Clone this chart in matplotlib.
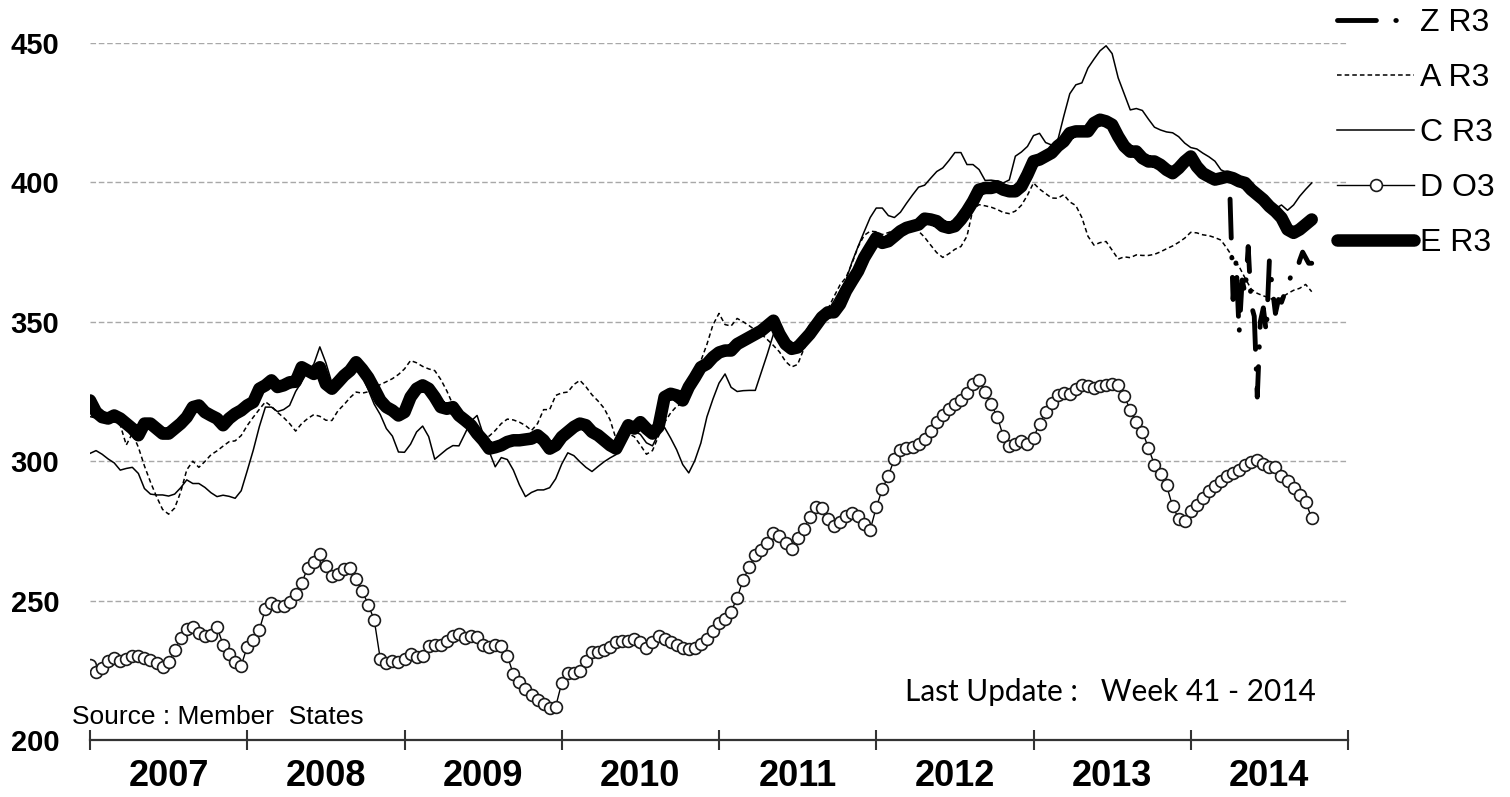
import matplotlib
matplotlib.use("Agg")
import matplotlib.pyplot as plt
import numpy as np

plt.rcParams["font.family"] = ["Liberation Sans", "DejaVu Sans"]

years = [2007, 2008, 2009, 2010, 2011, 2012, 2013, 2014]

# week index of each sample (every second week, 2007 week 1 .. 2014 week 41)
weeks = np.arange(0, 405, 2)

# E R3 (thick line)
e_r3 = [
    321.8, 317.6, 315.8, 315.3, 316.4, 315.3, 313.5, 311.7, 309.3, 313.5, 313.5, 311.7, 309.9,
    309.9, 311.7, 313.5, 315.8, 319.4, 320.0, 317.6, 316.4, 315.3, 312.9, 315.3, 317.0, 318.2,  # 2007
    320.0, 321.2, 326.0, 327.2, 329.0, 326.6, 327.2, 328.3, 328.5, 333.7, 332.5, 331.3, 333.7,
    327.7, 326.0, 328.3, 330.7, 332.5, 335.5, 333.0, 330.0, 326.0, 321.8, 319.4, 318.2, 316.4,  # 2008
    317.6, 323.0, 326.0, 327.2, 326.0, 323.0, 319.4, 318.8, 319.4, 316.4, 314.7, 312.9, 309.9,
    307.5, 304.5, 305.0, 305.7, 306.9, 307.5, 307.5, 307.8, 308.1, 309.3, 307.5, 304.5, 305.7,  # 2009
    308.7, 310.5, 312.3, 313.5, 312.9, 310.5, 309.3, 307.5, 305.7, 304.5, 308.7, 312.9, 311.7,
    314.0, 311.7, 309.9, 312.3, 323.0, 324.2, 323.6, 321.8, 326.6, 330.0, 333.7, 334.9, 337.3,  # 2010
    339.0, 339.7, 339.7, 342.0, 343.2, 344.4, 345.6, 346.8, 348.6, 350.4, 345.6, 342.0, 340.3,
    340.8, 343.2, 345.6, 348.6, 351.6, 353.4, 353.4, 356.3, 361.1, 364.7, 368.2, 373.0, 376.6,  # 2011
    380.1, 378.3, 378.9, 380.7, 382.5, 383.7, 384.3, 384.9, 387.0, 386.7, 386.1, 384.3, 383.7,
    384.3, 386.7, 389.7, 393.2, 397.4, 398.0, 398.0, 398.6, 397.4, 396.8, 396.8, 398.6, 402.8,  # 2012
    407.6, 408.2, 409.4, 410.6, 413.0, 414.7, 417.7, 418.3, 418.3, 418.3, 421.3, 422.5, 421.9,
    420.7, 416.5, 413.0, 411.0, 411.1, 408.7, 407.5, 407.5, 406.3, 404.5, 403.3, 405.1, 407.5,  # 2013
    409.3, 405.7, 403.3, 402.1, 401.0, 401.5, 402.1, 401.5, 400.4, 399.8, 397.4, 395.6, 393.8,
    391.4, 389.6, 387.3, 383.1, 381.9, 383.1, 384.9, 386.7,  # 2014
]

# C R3 (thin solid)
c_r3 = [
    302.8, 303.8, 302.5, 300.8, 299.4, 296.8, 297.4, 297.8, 295.6, 290.2, 288.2, 287.9, 287.9,
    287.5, 288.2, 290.5, 293.3, 292.0, 292.0, 290.6, 288.7, 287.3, 287.8, 287.4, 286.7, 289.4,  # 2007
    296.6, 304.0, 312.4, 319.4, 319.4, 317.8, 318.5, 320.0, 325.0, 328.5, 332.2, 334.8, 341.0,
    335.3, 328.0, 327.6, 329.7, 332.5, 334.3, 330.8, 325.7, 320.4, 316.7, 311.7, 309.0, 303.3,  # 2008
    303.2, 306.1, 310.5, 312.6, 308.8, 300.7, 302.5, 304.3, 305.6, 305.5, 309.9, 314.4, 316.4,
    309.7, 303.5, 298.0, 301.3, 300.6, 296.8, 291.5, 287.3, 288.8, 289.7, 289.7, 290.5, 293.7,  # 2009
    299.0, 303.0, 302.0, 299.8, 297.8, 296.3, 298.1, 299.8, 301.2, 302.4, 305.6, 310.5, 310.8,
    309.6, 306.6, 305.5, 309.9, 312.1, 308.3, 304.1, 298.8, 295.8, 300.2, 306.5, 315.9, 322.3,  # 2010
    328.0, 331.3, 326.5, 325.0, 325.3, 325.4, 325.4, 332.0, 338.5, 345.6, 344.7, 343.0, 340.8,
    343.0, 345.0, 349.0, 350.9, 351.6, 354.0, 357.4, 361.2, 365.0, 371.5, 377.0, 382.3, 387.4,  # 2011
    390.8, 390.8, 388.1, 387.4, 389.3, 392.5, 395.5, 398.3, 399.0, 401.5, 403.9, 405.2, 407.8,
    410.7, 410.7, 406.4, 406.4, 404.6, 400.7, 400.8, 400.5, 399.8, 400.9, 409.4, 410.9, 412.9,  # 2012
    416.8, 417.6, 414.3, 413.4, 415.0, 423.7, 431.8, 435.0, 435.7, 441.0, 444.2, 447.2, 449.0,
    446.2, 437.5, 431.7, 426.0, 426.5, 425.8, 422.7, 419.8, 418.8, 418.1, 417.8, 416.4, 414.1,  # 2013
    412.5, 412.0, 410.5, 409.2, 407.6, 404.5, 403.5, 402.2, 401.0, 399.6, 398.1, 395.3, 392.7,
    390.5, 390.6, 391.9, 390.0, 391.9, 395.0, 397.5, 399.8,  # 2014
]

# A R3 (dashed)
a_r3 = [
    316.0, 315.5, 315.0, 314.5, 314.7, 313.0, 305.8, 310.0, 305.0, 298.3, 292.5, 287.3, 282.7,
    281.0, 283.2, 289.0, 296.9, 300.0, 297.8, 299.9, 302.3, 303.7, 305.4, 307.0, 307.3, 309.2,  # 2007
    312.8, 315.8, 318.6, 321.3, 319.7, 317.5, 315.7, 313.5, 310.8, 313.5, 315.3, 316.7, 316.1,
    314.7, 314.6, 318.1, 320.3, 322.8, 324.8, 324.4, 324.9, 326.4, 327.5, 328.5, 329.6, 331.1,  # 2008
    333.1, 336.1, 335.3, 334.0, 333.1, 332.5, 329.3, 325.2, 320.3, 316.7, 313.5, 313.0, 311.3,
    308.4, 309.0, 311.0, 313.5, 315.1, 314.8, 314.0, 312.8, 311.0, 313.5, 318.5, 318.5, 323.6,  # 2009
    324.5, 324.8, 327.5, 329.0, 326.7, 323.8, 321.6, 319.0, 314.8, 307.8, 306.4, 309.9, 308.8,
    305.8, 302.5, 303.8, 309.0, 313.9, 317.3, 319.7, 320.8, 324.4, 327.5, 336.0, 341.9, 348.9,  # 2010
    353.0, 349.0, 348.5, 351.2, 350.0, 348.6, 347.0, 345.6, 343.6, 341.5, 339.2, 335.8, 333.8,
    334.7, 340.1, 344.1, 347.4, 350.4, 354.6, 359.0, 363.2, 365.9, 371.0, 376.9, 381.0, 382.5,  # 2011
    382.3, 381.3, 382.0, 382.8, 383.5, 384.3, 384.7, 382.5, 380.3, 377.5, 374.8, 373.1, 374.4,
    376.0, 377.0, 380.7, 390.5, 392.0, 391.6, 391.1, 390.3, 389.2, 388.8, 389.7, 391.8, 395.4,  # 2012
    399.8, 397.6, 396.0, 394.4, 394.3, 395.6, 393.0, 391.7, 387.4, 380.7, 377.5, 378.4, 378.8,
    375.7, 372.5, 373.3, 373.0, 374.0, 373.8, 373.8, 374.2, 375.1, 376.2, 377.2, 378.5, 380.0,  # 2013
    382.1, 381.9, 381.2, 380.9, 380.2, 379.3, 376.3, 373.0, 369.8, 365.6, 361.7, 360.2, 359.3,
    358.6, 357.5, 358.6, 360.1, 361.3, 362.0, 363.4, 360.8,  # 2014
]

# D O3 (circles)
d_o3 = [
    227.0, 224.4, 226.0, 228.3, 229.4, 228.2, 229.0, 230.3, 230.2, 229.4, 228.8, 227.7, 226.2,
    227.9, 232.2, 236.7, 239.7, 240.5, 238.4, 237.3, 237.8, 240.5, 234.2, 231.0, 228.0, 226.7,  # 2007
    233.5, 235.8, 239.5, 247.0, 249.1, 248.2, 248.0, 249.6, 252.5, 256.3, 261.8, 263.8, 266.8,
    262.5, 259.0, 259.5, 261.5, 261.6, 257.8, 253.5, 248.6, 243.0, 229.0, 227.5, 228.5, 228.0,  # 2008
    229.0, 231.0, 229.8, 230.0, 233.7, 234.2, 234.0, 235.6, 237.4, 237.9, 236.7, 237.2, 236.8,
    234.2, 233.5, 234.0, 233.6, 230.2, 223.6, 220.8, 218.2, 216.0, 214.5, 213.0, 211.6, 212.0,  # 2009
    220.5, 224.2, 224.0, 224.6, 228.3, 231.4, 231.4, 232.4, 233.4, 235.2, 235.5, 235.4, 236.1,
    235.1, 233.0, 235.2, 237.3, 236.2, 235.1, 234.0, 233.0, 232.6, 233.1, 234.4, 236.3, 239.0,  # 2010
    242.0, 243.5, 246.0, 251.0, 257.5, 262.0, 266.5, 268.0, 270.6, 274.2, 273.3, 270.5, 268.4,
    272.4, 275.8, 279.9, 283.5, 283.2, 279.2, 276.8, 278.3, 280.4, 281.4, 280.3, 277.6, 275.4,  # 2011
    283.4, 290.0, 294.8, 300.8, 304.1, 304.6, 305.2, 306.3, 308.0, 311.0, 314.2, 316.5, 318.7,
    320.4, 321.9, 324.5, 327.8, 329.2, 324.7, 320.4, 316.0, 309.0, 305.6, 306.3, 307.1, 306.0,  # 2012
    308.5, 313.4, 317.5, 320.8, 323.6, 324.4, 324.2, 325.8, 327.3, 326.8, 326.1, 327.1, 327.5,
    327.8, 327.5, 323.5, 318.3, 314.0, 310.6, 304.8, 298.7, 295.3, 291.3, 283.8, 279.4, 278.7,  # 2013
    282.3, 284.2, 286.8, 289.2, 291.1, 292.9, 294.7, 295.8, 296.9, 298.6, 299.7, 300.3, 298.9,
    298.0, 297.9, 294.6, 293.0, 290.5, 287.9, 285.5, 279.5,  # 2014
]

# Z R3 (weekly, only reported from 2014 week 14)
z_weeks = np.arange(377, 405)
z_r3 = [
    394, 358, 372, 346, 365, 360, 377, 356, 352, 323, 350, 355, 346, 372,
    362, 353, 358, 357, 360, 363, 366, 368, 368, 372, 375, 373, 371, 371,
]

x = 2007 + weeks / 52
xz = 2007 + z_weeks / 52

fig = plt.figure(figsize=(15.1, 7.97), dpi=100)
ax = fig.add_axes([90 / 1510, 57 / 797, 1258 / 1510, 697 / 797])

ax.plot(x, d_o3, color="black", lw=1.0, marker="o", ms=8.5, mfc="white",
        mec="#1a1a1a", mew=1.2, label="D O3", zorder=2)
ax.plot(x, e_r3, color="black", lw=9, solid_joinstyle="round",
        solid_capstyle="round", label="E R3", zorder=3)
ax.plot(x, c_r3, color="black", lw=1.1, label="C R3", zorder=4)
ax.plot(x, a_r3, color="black", lw=1.1, linestyle=(0, (3, 2)), label="A R3", zorder=4)
ax.plot(xz, z_r3, color="black", lw=3.5, linestyle=(0, (8, 4, 0.1, 4)),
        dash_capstyle="round", label="Z R3", zorder=5)

ax.set_xlim(2007, 2015)
ax.set_ylim(200, 450)

for side in ["left", "right", "top"]:
    ax.spines[side].set_visible(False)
ax.spines["bottom"].set_color("#333333")
ax.spines["bottom"].set_linewidth(1.6)

ax.set_xticks(range(2007, 2016))
ax.set_xticklabels([])
ax.tick_params(axis="x", which="major", direction="inout", length=15, width=1.5,
               color="#333333")
ax.set_xticks([y + 0.5 for y in years], minor=True)
ax.set_xticklabels([str(y) for y in years], minor=True, fontsize=26, fontweight="bold")
ax.tick_params(axis="x", which="minor", length=0, pad=14)

ax.set_yticks([200, 250, 300, 350, 400, 450])
ax.set_yticklabels(["200", "250", "300", "350", "400", "450"], fontsize=21,
                   fontweight="bold")
ax.tick_params(axis="y", length=0, pad=22)
ax.yaxis.grid(True, linestyle=(0, (4, 2)), color="#a8a8a8", lw=1.0)
ax.set_axisbelow(True)

handles, labels = ax.get_legend_handles_labels()
order = [labels.index(n) for n in ["Z R3", "A R3", "C R3", "D O3", "E R3"]]
fig.legend([handles[i] for i in order], [labels[i] for i in order],
           loc="upper left", bbox_to_anchor=(1315 / 1510, 1.018), frameon=False,
           fontsize=23, handlelength=2.4, handletextpad=0.2, labelspacing=0.78,
           numpoints=1, borderpad=0.2)

fig.text(72 / 1510, 1 - 717 / 797, "Source : Member  States", fontsize=19,
         ha="left", va="center")
fig.text(905 / 1510, 1 - 692 / 797, "Last Update :   Week 41 - 2014",
         fontsize=21.4, ha="left", va="center", family=["Lato", "DejaVu Sans"])

fig.savefig("out.png", dpi=100)
